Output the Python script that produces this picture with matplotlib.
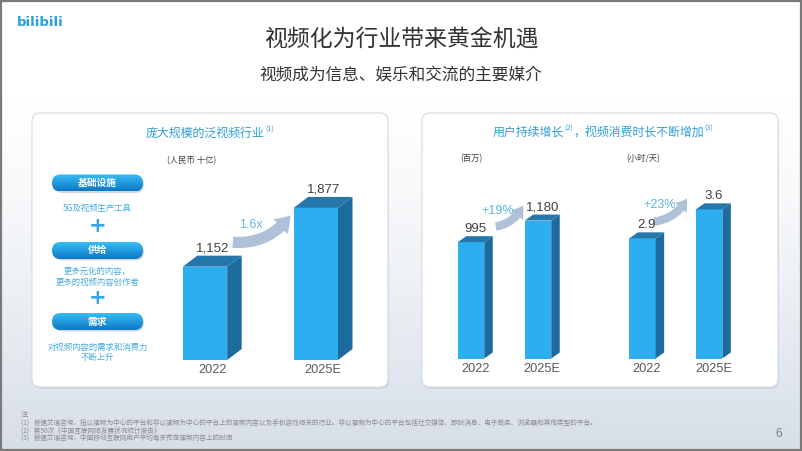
import matplotlib
matplotlib.use("Agg")
import matplotlib.pyplot as plt
import numpy as np
from matplotlib.patches import FancyBboxPatch, Polygon, FancyArrowPatch, Rectangle

plt.rcParams['font.family'] = ['Noto Sans CJK SC', 'DejaVu Sans']

W, H = 802, 451

# dados
anos = ["2022", "2025E"]
mercado = [1152, 1877]        # 人民币 十亿
usuarios = [995, 1180]        # 百万
horas = [2.9, 3.6]            # 小时/天
crescimento = ["1.6x", "+19%", "+23%"]

titulo = "视频化为行业带来黄金机遇"
subtitulo = "视频成为信息、娱乐和交流的主要媒介"
pilulas = ["基础设施", "供给", "需求"]
descricoes = ["5G及视频生产工具",
              "更多元化的内容，\n更多的视频内容创作者",
              "对视频内容的需求和消费力\n不断上升"]
notas = ["注:",
         "(1)   根据艾瑞咨询，指以视频为中心的平台和非以视频为中心的平台上的视频内容以及手机游戏相关的行业。"
         "非以视频为中心的平台包括社交媒体、即时消息、电子商务、浏览器和其他类型的平台。",
         "(2)   第50次《中国互联网络发展状况统计报告》",
         "(3)   根据艾瑞咨询，中国移动互联网用户平均每天花在视频内容上的时间"]

AZUL = "#2DAEF0"
LADO = "#1C6B9C"
TOPO = "#2576AA"
AZUL_TXT = "#2E9FDB"
SETA = "#AFC1D8"
NUM = ["Liberation Sans", "DejaVu Sans"]

fig = plt.figure(figsize=(W / 100, H / 100), dpi=100)

# camada de fundo em pixels (y para baixo)
bg = fig.add_axes([0, 0, 1, 1])
bg.set_xlim(0, W)
bg.set_ylim(H, 0)
bg.axis("off")

t = np.clip((np.arange(H) - 95) / (H - 95), 0, 1) ** 1.3
c0 = np.array([1.0, 1.0, 1.0])
c1 = np.array([0.84, 0.87, 0.91])
grad = (c0[None, :] * (1 - t[:, None]) + c1[None, :] * t[:, None])[:, None, :]
bg.imshow(grad, extent=(0, W, H, 0), aspect="auto", zorder=0)
bg.add_patch(Rectangle((0.7, 0.7), W - 1.4, H - 1.4, fill=False, ec="#7A7A7A", lw=1.6, zorder=10))

# logo e titulos
bg.text(17, 22, "bilibili", fontsize=9.5, fontweight="bold", color="#2B9FD9",
        family="DejaVu Sans", va="center", ha="left")
bg.text(401, 40, titulo, fontsize=16.5, color="#333333", ha="center", va="center")
bg.text(401, 75, subtitulo, fontsize=12, color="#333333", ha="center", va="center")

# paineis
for x0, x1 in [(32, 388), (422, 778)]:
    bg.add_patch(FancyBboxPatch((x0 + 1, 115), x1 - x0, 274, boxstyle="round,pad=0,rounding_size=8",
                                fc="#8A96A6", ec="none", alpha=0.18, zorder=1))
    bg.add_patch(FancyBboxPatch((x0, 113), x1 - x0, 274, boxstyle="round,pad=0,rounding_size=8",
                                fc="white", ec="#D6DAE0", lw=0.8, zorder=2))

renderer = fig.canvas.get_renderer()


def linha_sup(xc, y, partes, fs, cor):
    objs = []
    for s, sup in partes:
        objs.append(bg.text(0, y - (3 if sup else 0), s, fontsize=fs * 0.6 if sup else fs,
                            color=cor, ha="left", va="center", zorder=5))
    larg = [o.get_window_extent(renderer).width + 0.5 for o in objs]
    x = xc - sum(larg) / 2
    for o, w in zip(objs, larg):
        o.set_x(x)
        x += w


linha_sup(210, 133, [("庞大规模的泛视频行业", False), ("(1)", True)], 8.6, AZUL_TXT)
linha_sup(603, 132, [("用户持续增长", False), ("(2)", True), ("，视频消费时长不断增加", False),
                     ("(3)", True)], 8.6, AZUL_TXT)

bg.text(192, 161, "(人民币 十亿)", fontsize=6, color="#404040", ha="center", va="center", zorder=5)
bg.text(471, 159, "(百万)", fontsize=6, color="#404040", ha="center", va="center", zorder=5)
bg.text(643, 159, "(小时/天)", fontsize=6, color="#404040", ha="center", va="center", zorder=5)

# pilulas da esquerda
gr = np.linspace(0, 1, 50)[:, None]
pil_grad = np.dstack([0.22 - 0.17 * gr, 0.74 - 0.27 * gr, 0.96 - 0.19 * gr])
for nome, yc in zip(pilulas, [183, 250.5, 321.5]):
    bg.add_patch(FancyBboxPatch((54, yc - 7), 90, 17, boxstyle="round,pad=0,rounding_size=8.5",
                                fc="#6E7C8C", ec="none", alpha=0.3, zorder=3))
    p = FancyBboxPatch((52, yc - 8.5), 91, 17, boxstyle="round,pad=0,rounding_size=8.5",
                       fc="none", ec="none", zorder=4)
    bg.add_patch(p)
    im = bg.imshow(pil_grad, extent=(52, 143, yc + 8.5, yc - 8.5), aspect="auto", zorder=4)
    im.set_clip_path(p)
    bg.text(97.5, yc, nome, fontsize=7, fontweight="bold", color="white",
            ha="center", va="center", zorder=5)

for s, yc in zip(descricoes, [208.5, 277, 352.5]):
    bg.text(97.5, yc, s, fontsize=6, color="#45ABE2", ha="center", va="center",
            linespacing=1.2, zorder=5)
for yc in [226.5, 298]:
    bg.text(97.5, yc, "+", fontsize=15, fontweight="bold", color="#36A5E6", family="DejaVu Sans",
            ha="center", va="center", zorder=5)

# setas de crescimento
for (xa, ya), (xb, yb), (tx, ty), rot, esc in [((230, 242), (292, 213), (251, 225), crescimento[0], 1.35),
                                              ((493, 227), (524, 203), (498, 211.5), crescimento[1], 1.0),
                                              ((651, 222), (688, 196), (660, 205), crescimento[2], 1.0)]:
    bg.add_patch(FancyArrowPatch((xa, ya), (xb, yb), connectionstyle="arc3,rad=0.3",
                                 arrowstyle="simple,head_width=1.1,head_length=0.8,tail_width=0.6",
                                 mutation_scale=10 * esc, fc=SETA, ec="none", zorder=4))
    bg.text(tx, ty, rot, fontsize=9, color="#5BB5E6", family=NUM, ha="center", va="center", zorder=5)

# rodape
for i, s in enumerate(notas):
    bg.text(21, 415 + 7.6 * i, s, fontsize=4.8, color="#8C8C8C", ha="left", va="center", zorder=5)
bg.text(779, 434, "6", fontsize=8.5, color="#7F7F7F", family=NUM, ha="center", va="center", zorder=5)


def eixo_px(x0, y0, x1, y1):
    ax = fig.add_axes([x0 / W, 1 - y1 / H, (x1 - x0) / W, (y1 - y0) / H])
    ax.patch.set_alpha(0)
    for sp in ax.spines.values():
        sp.set_visible(False)
    ax.set_yticks([])
    ax.tick_params(length=0, pad=3)
    return ax


def barras3d(ax, valores, xlim, ymax, largura, dx_px, dy_px, fmt, fs_val, fs_cat):
    ax.set_xlim(*xlim)
    ax.set_ylim(0, ymax)
    bb = ax.get_position()
    dx = dx_px * (xlim[1] - xlim[0]) / (bb.width * W)
    dy = dy_px * ymax / (bb.height * H)
    xs = np.arange(len(valores))
    ax.bar(xs, valores, width=largura, color=AZUL, zorder=3)
    for x, v in zip(xs, valores):
        e, d = x - largura / 2, x + largura / 2
        ax.add_patch(Polygon([(d, 0), (d + dx, dy), (d + dx, v + dy), (d, v)], closed=True,
                             fc=LADO, ec="none", zorder=3))
        ax.add_patch(Polygon([(e, v), (e + dx, v + dy), (d + dx, v + dy), (d, v)], closed=True,
                             fc=TOPO, ec="none", zorder=3))
        ax.annotate(fmt(v), (x + dx / 2, v + dy), xytext=(0, 3), textcoords="offset points",
                    ha="center", va="baseline", fontsize=fs_val, color="#404040", family=NUM)
    ax.set_xticks(xs + dx / 2, anos, fontsize=fs_cat, color="#595959", family=NUM)


ax1 = eixo_px(160, 140, 380, 360)
barras3d(ax1, mercado, (-0.406, 1.579), 2715, 0.40, 14.5, 11, lambda v: f"{v:,}", 9.5, 9.2)

ax2 = eixo_px(440, 140, 590, 358.5)
barras3d(ax2, usuarios, (-0.463, 1.776), 1869, 0.395, 8.5, 6, lambda v: f"{v:,}", 9.5, 9.2)

ax3 = eixo_px(610, 140, 760, 358.5)
barras3d(ax3, horas, (-0.487, 1.762), 5.274, 0.395, 8.5, 6, lambda v: f"{v}", 9.5, 9.2)

fig.savefig("out.png", dpi=100)
